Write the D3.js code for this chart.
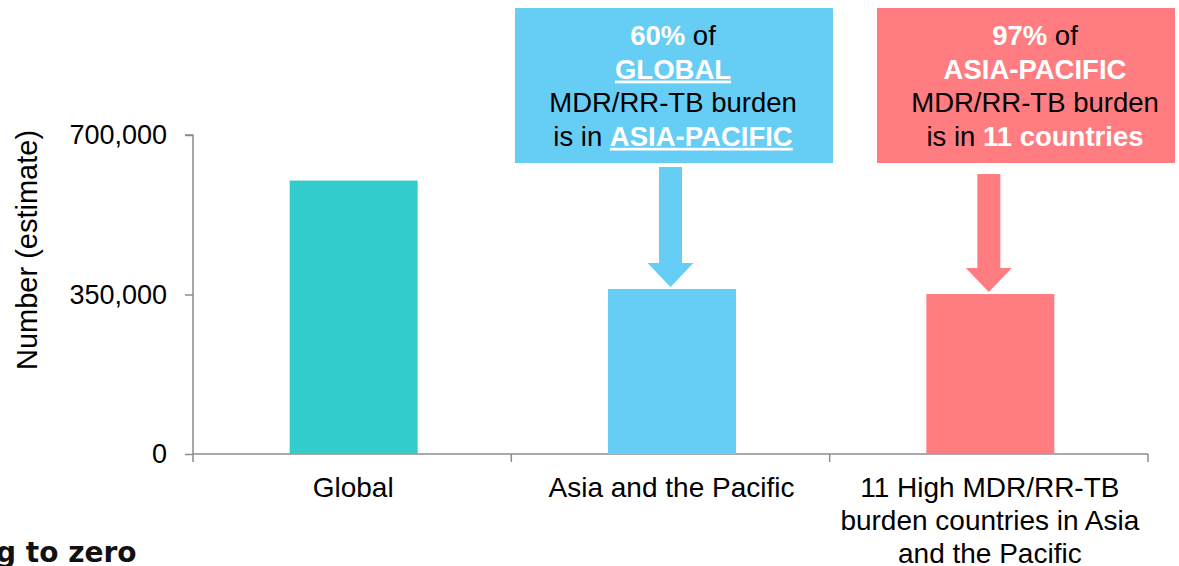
<!DOCTYPE html>
<html>
<head>
<meta charset="utf-8">
<script src="https://cdn.jsdelivr.net/npm/d3@7"></script>
<style>
  html, body { margin: 0; padding: 0; background: #fff; }
  svg { display: block; font-family: "Liberation Sans", Arial, sans-serif; }
</style>
</head>
<body>
<div id="chart"></div>
<script>
// data
var categories = ["Global", "Asia and the Pacific", "11 High MDR/RR-TB burden countries in Asia and the Pacific"];
var categoryLines = [["Global"], ["Asia and the Pacific"], ["11 High MDR/RR-TB", "burden countries in Asia", "and the Pacific"]];
var values = [600000, 362000, 351000];
var yTicks = [0, 350000, 700000];
var yLabel = "Number (estimate)";
var barColors = ["#33cccc", "#66cdf5", "#ff7c80"];

// callout text, one array of pieces per line
var calloutBlue = [
  [{t: "60%", b: 1, w: 1}, {t: " of"}],
  [{t: "GLOBAL", b: 1, w: 1, u: 1}],
  [{t: "MDR/RR-TB burden"}],
  [{t: "is in "}, {t: "ASIA-PACIFIC", b: 1, w: 1, u: 1}]
];
var calloutRed = [
  [{t: "97%", b: 1, w: 1}, {t: " of"}],
  [{t: "ASIA-PACIFIC", b: 1, w: 1}],
  [{t: "MDR/RR-TB burden"}],
  [{t: "is in "}, {t: "11 countries", b: 1, w: 1}]
];

var W = 1179, H = 566;
var margin = {left: 193, right: 31, top: 135, bottom: 112};

var svg = d3.select("#chart").append("svg")
  .attr("width", W)
  .attr("height", H);

svg.append("rect").attr("width", W).attr("height", H).attr("fill", "#fff");

var x = d3.scaleBand()
  .domain(categories)
  .range([margin.left, W - margin.right])
  .paddingInner(0.598)
  .paddingOuter(0.299);

var y = d3.scaleLinear()
  .domain([0, 700000])
  .range([H - margin.bottom, margin.top]);

var axisColor = "#8c8c8c";

// y axis
var yAxis = svg.append("g")
  .attr("transform", "translate(" + margin.left + ",0)")
  .call(d3.axisLeft(y).tickValues(yTicks).tickFormat(d3.format(",")).tickSize(8).tickPadding(18));
yAxis.select(".domain").attr("d", "M-8," + y(700000) + "H0V" + (y(0) + 8)).attr("stroke", axisColor).attr("stroke-width", 1.5);
yAxis.selectAll(".tick line").attr("stroke", axisColor).attr("stroke-width", 1.5);
yAxis.selectAll(".tick text").attr("font-size", 27).attr("fill", "#000").attr("font-family", null);

// x axis line and the ticks between categories
var step = x.step();
var xg = svg.append("g");
xg.append("line")
  .attr("x1", margin.left).attr("x2", W - margin.right)
  .attr("y1", y(0)).attr("y2", y(0))
  .attr("stroke", axisColor).attr("stroke-width", 1.5);
xg.selectAll("line.sep")
  .data(d3.range(1, categories.length + 1))
  .enter().append("line")
  .attr("class", "sep")
  .attr("x1", function(i) { return margin.left + i * step; })
  .attr("x2", function(i) { return margin.left + i * step; })
  .attr("y1", y(0)).attr("y2", y(0) + 8)
  .attr("stroke", axisColor).attr("stroke-width", 1.5);

// category labels
var lab = svg.append("g").selectAll("text")
  .data(categories)
  .enter().append("text")
  .attr("text-anchor", "middle")
  .attr("font-size", 28)
  .attr("fill", "#000");
lab.each(function(d, i) {
  var t = d3.select(this);
  categoryLines[i].forEach(function(line, j) {
    t.append("tspan")
      .attr("x", x(d) + x.bandwidth() / 2 + 1)
      .attr("y", y(0) + 43 + j * 33)
      .text(line);
  });
});

// y axis title
svg.append("text")
  .attr("transform", "translate(37,250) rotate(-90)")
  .attr("text-anchor", "middle")
  .attr("font-size", 29)
  .attr("fill", "#000")
  .text(yLabel);

// bars
svg.append("g").selectAll("rect")
  .data(values)
  .enter().append("rect")
  .attr("x", function(d, i) { return x(categories[i]) + 1.5; })
  .attr("y", function(d) { return y(d); })
  .attr("width", x.bandwidth())
  .attr("height", function(d) { return y(0) - y(d); })
  .attr("fill", function(d, i) { return barColors[i]; });

// callouts
var callouts = [
  {cat: 1, lines: calloutBlue, color: barColors[1], bx: 515, bw: 318, tx: 673, arrowTop: 167},
  {cat: 2, lines: calloutRed, color: barColors[2], bx: 877, bw: 298, tx: 1035, arrowTop: 174}
];

callouts.forEach(function(c) {
  var g = svg.append("g");
  g.append("rect")
    .attr("x", c.bx).attr("y", 8)
    .attr("width", c.bw).attr("height", 155)
    .attr("fill", c.color);

  c.lines.forEach(function(line, j) {
    var t = g.append("text")
      .attr("x", c.tx)
      .attr("y", 45 + j * 33.6)
      .attr("text-anchor", "middle")
      .attr("font-size", 27.5);
    line.forEach(function(p) {
      t.append("tspan")
        .attr("fill", p.w ? "#fff" : "#000")
        .attr("font-weight", p.b ? "bold" : null)
        .style("text-decoration", p.u ? "underline" : null)
        .style("white-space", "pre")
        .text(p.t);
    });
  });

  // arrow down to the bar
  var cx = x(categories[c.cat]) + x.bandwidth() / 2;
  var tip = y(values[c.cat]) - 2;
  var sw = 11.5, hw = 23, hl = 24;
  var p = d3.path();
  p.moveTo(cx - sw, c.arrowTop);
  p.lineTo(cx + sw, c.arrowTop);
  p.lineTo(cx + sw, tip - hl);
  p.lineTo(cx + hw, tip - hl);
  p.lineTo(cx, tip);
  p.lineTo(cx - hw, tip - hl);
  p.lineTo(cx - sw, tip - hl);
  p.closePath();
  g.append("path").attr("d", p.toString()).attr("fill", c.color);
});

// cut off logo text at the bottom left
svg.append("text")
  .attr("x", -4)
  .attr("y", 562)
  .attr("font-family", "'DejaVu Sans', sans-serif")
  .attr("font-weight", "bold")
  .attr("font-size", 28)
  .attr("fill", "#111")
  .text("g to zero");
</script>
</body>
</html>
